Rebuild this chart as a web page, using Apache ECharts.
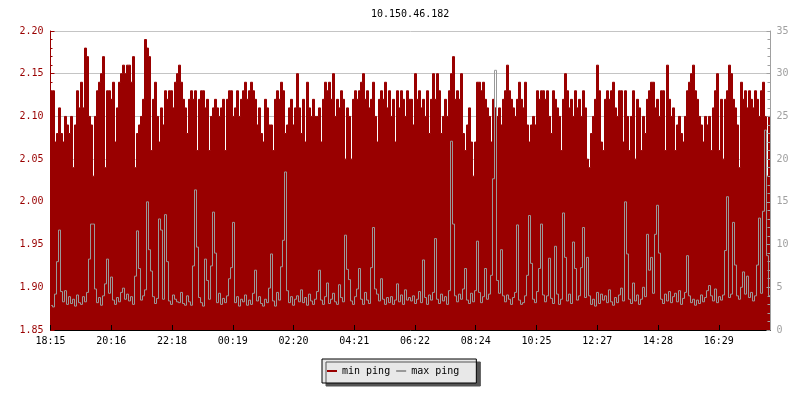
<!DOCTYPE html>
<html><head><meta charset="utf-8">
<script src="https://cdn.jsdelivr.net/npm/echarts@6/dist/echarts.min.js"></script>
<style>html,body{margin:0;padding:0;background:#fff}#c{width:800px;height:400px}</style>
</head><body><div id="c"></div>
<script>
const chartTitle = '10.150.46.182';
const sampleMinutes = 4;
const labelMinutes = 121.5;
const timeLabels = ['18:15','20:16','22:18','00:19','02:20','04:21','06:22','08:24','10:25','12:27','14:28','16:29'];
const seriesNames = ['min ping', 'max ping'];

// min ping (left axis, ms) — one value per 4 minutes
const minPing = [
2.13,2.13,2.07,2.08,2.11,2.08,2.07,2.10,2.09,2.08,
2.10,2.04,2.09,2.13,2.11,2.14,2.11,2.18,2.17,2.10,
2.09,2.03,2.10,2.13,2.14,2.15,2.17,2.04,2.13,2.13,
2.12,2.14,2.07,2.11,2.14,2.15,2.16,2.15,2.16,2.16,
2.14,2.17,2.04,2.08,2.09,2.10,2.12,2.19,2.18,2.17,
2.06,2.12,2.14,2.10,2.07,2.11,2.09,2.13,2.12,2.13,
2.13,2.11,2.14,2.15,2.16,2.14,2.12,2.11,2.08,2.12,
2.13,2.12,2.13,2.06,2.12,2.13,2.13,2.11,2.12,2.06,
2.10,2.11,2.12,2.11,2.10,2.11,2.12,2.06,2.12,2.13,
2.13,2.10,2.11,2.13,2.10,2.12,2.13,2.14,2.12,2.13,
2.14,2.13,2.12,2.09,2.11,2.08,2.07,2.12,2.11,2.09,
2.09,2.06,2.12,2.13,2.12,2.14,2.13,2.08,2.09,2.11,
2.12,2.09,2.11,2.15,2.11,2.08,2.12,2.07,2.14,2.11,
2.10,2.12,2.10,2.10,2.11,2.07,2.12,2.14,2.13,2.14,
2.12,2.15,2.10,2.12,2.11,2.13,2.12,2.05,2.11,2.10,
2.05,2.12,2.13,2.12,2.13,2.14,2.15,2.12,2.13,2.11,
2.12,2.14,2.10,2.07,2.12,2.13,2.12,2.14,2.11,2.13,
2.10,2.12,2.07,2.13,2.11,2.13,2.12,2.10,2.13,2.12,
2.12,2.09,2.15,2.12,2.13,2.11,2.12,2.10,2.13,2.08,
2.12,2.15,2.12,2.15,2.13,2.08,2.10,2.12,2.10,2.13,
2.15,2.17,2.12,2.13,2.12,2.15,2.08,2.06,2.09,2.11,
2.07,2.03,2.07,2.14,2.14,2.13,2.14,2.12,2.11,2.10,
2.07,2.12,2.11,2.10,2.11,2.09,2.12,2.13,2.16,2.13,
2.12,2.11,2.10,2.12,2.14,2.12,2.11,2.14,2.09,2.07,
2.09,2.10,2.09,2.13,2.12,2.13,2.13,2.12,2.13,2.10,
2.08,2.13,2.12,2.11,2.10,2.06,2.12,2.15,2.13,2.11,
2.12,2.10,2.13,2.11,2.12,2.10,2.13,2.11,2.05,2.04,
2.08,2.10,2.12,2.16,2.13,2.07,2.06,2.12,2.13,2.12,
2.13,2.14,2.11,2.10,2.13,2.13,2.07,2.13,2.10,2.06,
2.10,2.13,2.05,2.12,2.11,2.06,2.10,2.08,2.12,2.13,
2.14,2.14,2.11,2.12,2.10,2.13,2.13,2.06,2.16,2.12,
2.10,2.11,2.06,2.09,2.10,2.08,2.07,2.10,2.13,2.14,
2.15,2.16,2.13,2.12,2.10,2.09,2.07,2.10,2.09,2.10,
2.06,2.11,2.13,2.15,2.06,2.12,2.05,2.12,2.13,2.16,
2.15,2.12,2.11,2.09,2.04,2.14,2.12,2.13,2.11,2.13,
2.12,2.11,2.13,2.12,2.10,2.13,2.14,2.10,2.03,2.10
];

// max ping (right axis, ms) — one value per 4 minutes
const maxPing = [
2.9,2.7,4.2,8.0,11.7,4.5,3.3,4.6,3.0,3.9,
3.1,3.6,2.8,4.1,3.2,3.0,3.9,3.3,4.4,8.3,
12.4,12.4,4.8,3.2,3.8,2.9,4.0,5.4,8.3,4.3,
6.2,3.5,3.0,3.8,3.3,4.4,4.9,3.6,4.2,3.4,
3.9,3.0,6.3,11.6,7.2,3.5,4.0,4.7,15.0,9.4,
6.9,3.9,3.1,3.7,13.0,11.7,3.6,13.5,8.0,3.4,
3.0,4.1,3.6,3.3,3.2,4.4,3.1,2.9,4.0,3.3,
2.9,7.5,16.4,9.7,3.8,3.2,2.8,8.3,5.8,3.6,
7.5,13.8,9.0,3.2,4.3,3.0,3.7,3.2,4.0,6.0,
7.3,12.6,3.2,3.9,2.8,3.6,3.3,4.1,2.9,3.5,
3.0,4.3,7.0,3.4,3.9,3.1,2.8,3.6,3.2,4.9,
8.9,3.4,2.8,4.4,3.5,7.4,10.5,18.5,4.6,3.2,
3.9,2.9,3.6,4.0,3.3,4.7,3.2,3.8,2.9,4.2,
3.4,3.0,3.6,4.5,7.0,3.5,3.0,3.9,5.5,3.1,
3.6,4.3,3.3,3.0,5.3,3.8,3.3,11.1,7.1,5.9,
3.4,3.0,3.9,4.8,7.2,3.6,3.0,4.4,3.5,3.1,
7.3,12.0,4.8,4.2,3.4,6.0,3.6,3.0,3.8,3.2,
3.9,3.0,3.5,5.4,3.3,4.1,3.0,4.7,3.5,3.8,
3.4,4.0,3.1,3.6,4.5,3.2,8.2,3.8,3.0,4.1,
3.5,4.4,10.7,3.6,3.1,4.2,3.4,3.9,3.0,4.6,
22.1,12.4,4.0,3.3,4.2,3.6,4.8,7.2,3.5,3.1,
4.3,3.3,4.6,10.4,4.4,3.2,3.9,7.2,3.6,4.2,
6.4,17.7,30.4,5.8,4.3,9.4,4.0,3.3,4.1,3.6,
3.0,3.8,4.4,12.3,3.5,3.0,3.2,4.0,6.4,13.4,
7.8,3.6,3.2,4.5,7.2,12.4,4.1,3.3,4.0,8.4,
3.7,3.1,9.8,4.2,3.0,3.6,13.7,8.5,3.4,4.2,
3.1,10.3,7.2,3.5,4.0,7.3,12.0,3.8,8.5,4.0,
3.0,3.6,2.8,4.4,3.1,4.2,3.5,4.0,3.2,4.7,
3.3,2.9,3.8,3.2,4.1,4.9,3.4,15.0,8.9,3.6,
3.1,5.5,3.4,4.1,3.0,3.6,5.0,3.9,11.2,7.0,
8.5,4.3,11.2,14.6,9.0,3.6,3.1,4.2,3.4,4.5,
3.2,3.9,4.3,3.3,4.6,3.0,3.7,4.4,8.7,4.0,
3.2,3.6,2.9,3.5,3.1,4.1,3.3,3.8,4.6,5.2,
4.0,3.4,4.8,3.2,3.9,3.5,4.1,9.3,15.6,3.8,
4.2,12.6,7.6,4.0,3.6,5.0,6.8,4.2,6.3,3.8,
4.4,3.4,4.0,7.6,13.1,4.3,13.9,23.4,8.7,4.0
];

const leftAxis = { min: 1.85, max: 2.20, step: 0.05 };
const rightAxis = { min: 0, max: 35, step: 5 };

const font = 'DejaVu Sans Mono';
const red = '#990000';
const gray = '#999999';
const axisGray = '#a0a0a0';

// each sample holds its value for the whole 4-minute slot (RRD-style steps)
const toSteps = arr => {
  const d = [];
  arr.forEach((v, i) => { d.push([i * sampleMinutes, v]); d.push([(i + 1) * sampleMinutes, v]); });
  return d;
};
const totalMinutes = minPing.length * sampleMinutes;
const labelValues = timeLabels.map((_, k) => k * labelMinutes);

const chart = echarts.init(document.getElementById('c'), null, { renderer: 'canvas' });
chart.setOption({
  animation: false,
  backgroundColor: '#ffffff',
  title: {
    text: chartTitle, left: 371, top: 9, padding: 0,
    textStyle: { fontFamily: font, fontSize: 10, fontWeight: 'normal', color: '#000' }
  },
  legend: {
    data: seriesNames, left: 322, top: 359, padding: [7, 17, 7, 5],
    itemGap: 6, itemWidth: 10, itemHeight: 2, icon: 'rect',
    backgroundColor: '#e8e8e8', borderColor: '#000', borderWidth: 1, borderRadius: 0,
    shadowColor: '#555555', shadowBlur: 0, shadowOffsetX: 4, shadowOffsetY: 3,
    textStyle: { fontFamily: font, fontSize: 10, color: '#000' }
  },
  grid: { left: 50.5, top: 31, width: 720, height: 299, containLabel: false },
  xAxis: {
    type: 'value', min: 0, max: totalMinutes, z: 10,
    axisLine: { show: true, lineStyle: { color: '#000', width: 1 } },
    axisTick: { show: true, inside: true, length: 5, customValues: labelValues, lineStyle: { color: '#000' } },
    axisLabel: {
      customValues: labelValues,
      formatter: v => { const k = Math.round(v / labelMinutes); return timeLabels[k] !== undefined ? timeLabels[k] : ''; },
      fontFamily: font, fontSize: 10, color: '#000', margin: 6
    },
    splitLine: { show: false }
  },
  yAxis: [
    {
      type: 'value', min: leftAxis.min, max: leftAxis.max, interval: leftAxis.step, position: 'left', z: 0,
      axisLine: { show: false }, axisTick: { show: false }, axisLabel: { show: false },
      splitLine: { show: true, lineStyle: { color: '#c4c4c4', width: 1 } }
    },
    {
      type: 'value', min: rightAxis.min, max: rightAxis.max, interval: rightAxis.step, position: 'right', z: 10,
      axisLine: { show: true, lineStyle: { color: axisGray } },
      axisTick: { show: true, inside: true, length: 4, lineStyle: { color: axisGray } },
      minorTick: { show: true, splitNumber: 5, length: 3, lineStyle: { color: axisGray } },
      axisLabel: { fontFamily: font, fontSize: 10, color: axisGray, margin: 6 },
      splitLine: { show: false }
    },
    {
      type: 'value', min: leftAxis.min, max: leftAxis.max, interval: leftAxis.step, position: 'left', z: 10,
      axisLine: { show: true, lineStyle: { color: red } },
      axisTick: { show: true, inside: true, length: 4, lineStyle: { color: red } },
      minorTick: { show: true, splitNumber: 5, length: 2, lineStyle: { color: red } },
      axisLabel: { formatter: v => v.toFixed(2), fontFamily: font, fontSize: 10, color: red, margin: 7 },
      splitLine: { show: false }
    }
  ],
  series: [
    {
      name: seriesNames[0], type: 'line', yAxisIndex: 0, data: toSteps(minPing),
      symbol: 'none', showSymbol: false, silent: true,
      lineStyle: { width: 1, color: red }, itemStyle: { color: red },
      areaStyle: { color: red, opacity: 1, origin: 'start' }
    },
    {
      name: seriesNames[1], type: 'line', yAxisIndex: 1, data: toSteps(maxPing),
      symbol: 'none', showSymbol: false, silent: true,
      lineStyle: { width: 1, color: gray }, itemStyle: { color: gray }
    }
  ]
});

// keep every 2px step: the line paths drop segments of <=2px by default
try {
  const zr = chart.getZr();
  zr.storage.getDisplayList(true).forEach(el => {
    if (el.segmentIgnoreThreshold) {
      el.segmentIgnoreThreshold = 0.001;
      if (el.dirtyShape) el.dirtyShape();
      if (el.markRedraw) el.markRedraw();
    }
  });
  zr.refreshImmediately();
} catch (e) {}
</script></body></html>
